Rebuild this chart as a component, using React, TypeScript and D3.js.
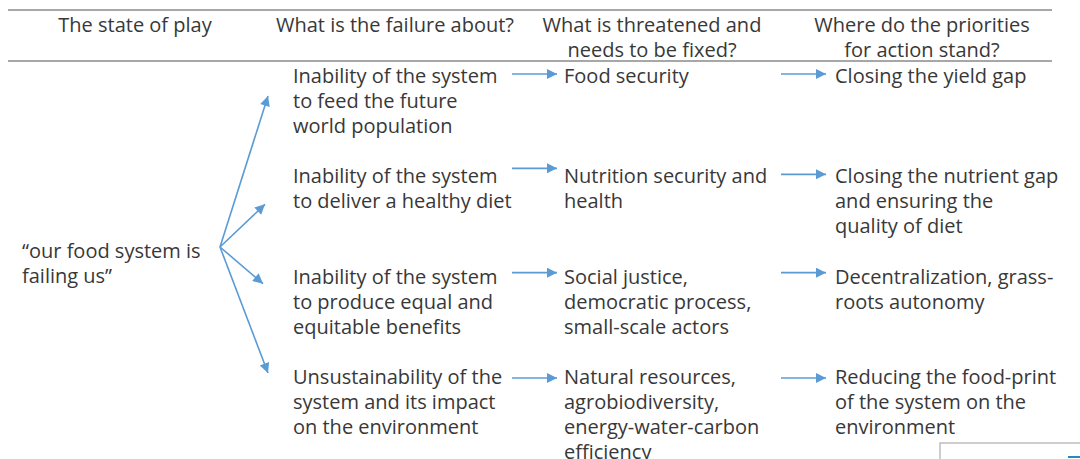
import * as d3 from 'd3';

const headers: string[][] = [
  ['The state of play'],
  ['What is the failure about?'],
  ['What is threatened and', 'needs to be fixed?'],
  ['Where do the priorities', 'for action stand?']
];

const stateOfPlay: string[] = ['\u201Cour food system is', 'failing us\u201D'];

const failures: string[][] = [
  ['Inability of the system', 'to feed the future', 'world population'],
  ['Inability of the system', 'to deliver a healthy diet'],
  ['Inability of the system', 'to produce equal and', 'equitable benefits'],
  ['Unsustainability of the', 'system and its impact', 'on the environment']
];

const threats: string[][] = [
  ['Food security'],
  ['Nutrition security and', 'health'],
  ['Social justice,', 'democratic process,', 'small-scale actors'],
  ['Natural resources,', 'agrobiodiversity,', 'energy-water-carbon', 'efficiency']
];

const priorities: string[][] = [
  ['Closing the yield gap'],
  ['Closing the nutrient gap', 'and ensuring the', 'quality of diet'],
  ['Decentralization, grass-', 'roots autonomy'],
  ['Reducing the food-print', 'of the system on the', 'environment']
];

// small vertical nudges of the connecting arrows, as drawn in the source
const arrowNudge: [number, number][] = [
  [-1, -1],
  [-7, -1],
  [-3, -3],
  [2, 2]
];

const width = 1080;
const height = 459;
const lineH = 25;
const textColor = '#383838';
const blue = '#5b9bd5';
const rule = '#8a8a8a';

export default function App() {
  const cols = d3.range(4);
  const x = d3.scalePoint<number>().domain(cols).range([22, 835]);
  const headX = d3.scaleOrdinal<number, number>().domain(cols).range([135, 395, 652, 922]);
  const y = d3.scalePoint<number>().domain(d3.range(4)).range([75, 376]);

  const origin: [number, number] = [220, 247];
  const fanEnd = (i: number): [number, number] => {
    const dx = [48, 45, 43, 48][i];
    const ty = y(i)! + [21, 29, 8, -3][i];
    return [origin[0] + dx, ty];
  };

  const line = d3.line();

  const block = (lines: string[], x0: number, y0: number, key: string, anchor = 'start') => (
    <text key={key} x={x0} y={y0} textAnchor={anchor} fill={textColor} dominantBaseline="central">
      {lines.map((l, j) => (
        <tspan key={j} x={x0} y={y0 + j * lineH}>
          {l}
        </tspan>
      ))}
    </text>
  );

  return (
    <svg
      width={width}
      height={height}
      style={{ position: 'absolute', left: 0, top: 0, background: '#fff', font: '20px "Open Sans", sans-serif' }}
    >
      <defs>
        <marker id="ah" viewBox="0 0 10 10" refX="10" refY="5" markerWidth="13" markerHeight="10" markerUnits="userSpaceOnUse" orient="auto">
          <path d="M0,0 L10,5 L0,10 Z" fill={blue} />
        </marker>
      </defs>

      <line x1={8} x2={1052} y1={10} y2={10} stroke={rule} strokeWidth={1.5} />
      <line x1={8} x2={1052} y1={61} y2={61} stroke={rule} strokeWidth={1.5} />

      {headers.map((h, i) => block(h, headX(i), 24, `h${i}`, 'middle'))}

      {block(stateOfPlay, x(0)!, 250, 'sp')}

      {failures.map((f, i) => block(f, x(1)!, y(i)!, `f${i}`))}
      {threats.map((t, i) => block(t, x(2)!, y(i)!, `t${i}`))}
      {priorities.map((p, i) => block(p, x(3)!, y(i)!, `p${i}`))}

      {cols.map((i) => (
        <path
          key={`fan${i}`}
          d={line([origin, fanEnd(i)]) || ''}
          stroke={blue}
          strokeWidth={1.6}
          fill="none"
          markerEnd="url(#ah)"
        />
      ))}

      {failures.map((_, i) => (
        <g key={`ar${i}`}>
          <path
            d={line([[x(1)! + 219, y(i)! + arrowNudge[i][0]], [x(2)! - 7, y(i)! + arrowNudge[i][0]]]) || ''}
            stroke={blue}
            strokeWidth={1.6}
            markerEnd="url(#ah)"
          />
          <path
            d={line([[x(2)! + 217, y(i)! + arrowNudge[i][1]], [x(3)! - 9, y(i)! + arrowNudge[i][1]]]) || ''}
            stroke={blue}
            strokeWidth={1.6}
            markerEnd="url(#ah)"
          />
        </g>
      ))}

      <rect x={940} y={443} width={160} height={30} fill="#fff" stroke="#bdbdbd" strokeWidth={1.5} />
      <line x1={1068} x2={1080} y1={457} y2={457} stroke="#2e86c1" strokeWidth={2} />
    </svg>
  );
}
